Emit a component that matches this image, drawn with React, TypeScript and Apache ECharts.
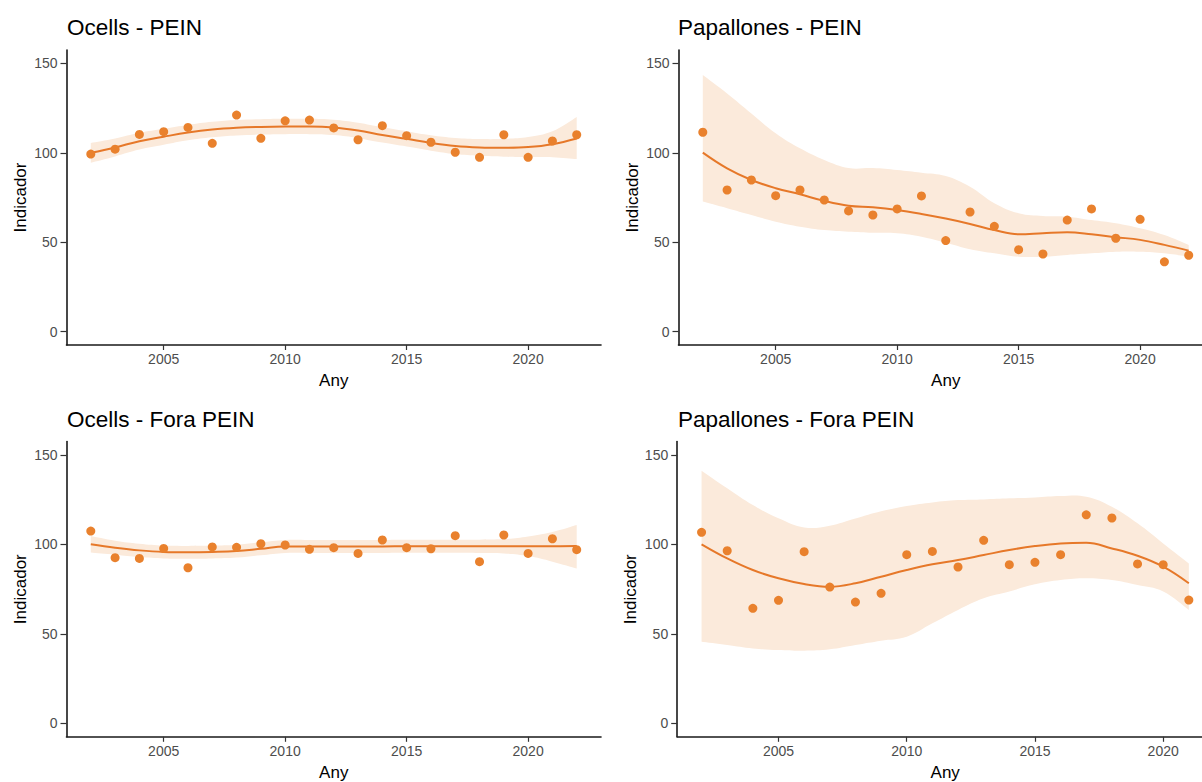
import React, { useEffect, useRef } from "react";
import * as echarts from "echarts";

// ---------- Data ----------
const yearsFull = [2002, 2003, 2004, 2005, 2006, 2007, 2008, 2009, 2010, 2011, 2012, 2013, 2014, 2015, 2016, 2017, 2018, 2019, 2020, 2021, 2022];
const yearsShort = [2002, 2003, 2004, 2005, 2006, 2007, 2008, 2009, 2010, 2011, 2012, 2013, 2014, 2015, 2016, 2017, 2018, 2019, 2020, 2021];

const xTickValues = [2005, 2010, 2015, 2020];
const yTickValues = [0, 50, 100, 150];

const panelTitles = ["Ocells - PEIN", "Papallones - PEIN", "Ocells - Fora PEIN", "Papallones - Fora PEIN"];

// Ocells - PEIN
const ocellsPeinValues = [99.3, 102.0, 110.3, 111.8, 114.2, 105.3, 121.1, 108.1, 117.9, 118.3, 113.9, 107.3, 115.2, 109.6, 105.9, 100.3, 97.5, 110.1, 97.5, 106.6, 110.1];
const ocellsPeinFit = [100, 103, 106.5, 109, 111.3, 113, 114, 114.5, 114.7, 114.7, 114.2, 112.5, 110, 107.8, 105.5, 103.8, 103, 102.8, 103.2, 104.8, 108];
const ocellsPeinLow = [94.5, 98, 101.8, 104.5, 107, 108.7, 109.7, 110.2, 110.4, 110.4, 109.9, 108.2, 105.7, 103.5, 101.2, 99.3, 98.3, 97.8, 97.6, 97.5, 96.5];
const ocellsPeinHigh = [105.5, 108, 111.2, 113.5, 115.6, 117.3, 118.3, 118.8, 119, 119, 118.5, 116.8, 114.3, 112.1, 109.8, 108.3, 107.7, 107.8, 108.8, 112, 120];

// Papallones - PEIN
const papPeinValues = [111.5, 79.2, 84.8, 76.0, 79.2, 73.6, 67.5, 65.2, 68.6, 75.9, 50.9, 66.9, 58.9, 45.8, 43.4, 62.4, 68.6, 52.2, 62.8, 39.0, 42.7];
const papPeinFit = [100.1, 91.3, 84.8, 80.2, 76.8, 73.1, 70.4, 69.5, 68.0, 65.8, 63.2, 60.2, 56.8, 54.4, 55.0, 55.5, 54.4, 52.8, 51.3, 48.5, 45.3];
const papPeinLow = [72.7, 69, 65.2, 61.5, 58.7, 56.8, 55.9, 55.3, 55, 53.1, 49.7, 46.1, 43.8, 41.9, 41.9, 42.9, 43.8, 44.7, 44.7, 43.8, 41.9];
const papPeinHigh = [143.5, 133.2, 122, 110.9, 102.5, 96, 91.5, 91.5, 90.4, 88.9, 87, 81, 71.8, 66.2, 64.7, 64.3, 62.4, 60.6, 57.8, 54, 48.5];

// Ocells - Fora PEIN
const ocellsForaValues = [107.5, 92.6, 92.2, 97.8, 87.0, 98.6, 98.4, 100.4, 99.7, 97.3, 98.2, 95.0, 102.5, 98.2, 97.6, 104.9, 90.4, 105.3, 95.0, 103.2, 97.1];
const ocellsForaFit = [100.1, 98.2, 96.7, 95.8, 95.6, 95.8, 96.3, 97.6, 98.9, 98.9, 98.9, 98.9, 98.9, 99.0, 99.0, 99.0, 99.0, 99.0, 99.0, 99.0, 99.1];
const ocellsForaLow = [95.5, 94.3, 93.0, 92.2, 92.0, 92.2, 92.7, 94.0, 95.3, 95.3, 95.3, 95.3, 95.3, 95.4, 95.4, 95.4, 95.3, 95.0, 93.5, 90.4, 86.6];
const ocellsForaHigh = [104.7, 102.1, 100.4, 99.4, 99.2, 99.4, 99.9, 101.2, 102.5, 102.5, 102.5, 102.5, 102.5, 102.6, 102.6, 102.6, 102.7, 103.0, 104.5, 107.0, 110.9];

// Papallones - Fora PEIN
const papForaValues = [106.8, 96.5, 64.3, 68.8, 96.0, 76.2, 67.8, 72.7, 94.3, 96.1, 87.4, 102.3, 88.7, 90.0, 94.3, 116.6, 114.8, 89.1, 88.7, 68.9];
const papForaFit = [100.1, 92.2, 85.7, 81.1, 77.9, 76.4, 78.3, 82.0, 85.7, 88.9, 91.3, 94.1, 96.9, 99.1, 100.6, 101.0, 97.8, 93.7, 87.6, 78.3];
const papForaLow = [45.6, 43.8, 41.9, 41.0, 40.6, 41.4, 43.8, 46.2, 48.4, 55.9, 63.4, 69.9, 73.7, 77.7, 80.1, 81.1, 80.1, 77.3, 73.7, 63.4];
const papForaHigh = [141.2, 131.4, 122, 114.6, 109.5, 110.5, 114.5, 118.5, 121.5, 123.5, 124.8, 125.2, 125.8, 126.3, 127.1, 126.7, 121.1, 111.8, 100.6, 89.4];

const panels = [
  { title: panelTitles[0], years: yearsFull, values: ocellsPeinValues, fit: ocellsPeinFit, low: ocellsPeinLow, high: ocellsPeinHigh, xMin: 2001, xMax: 2023 },
  { title: panelTitles[1], years: yearsFull, values: papPeinValues, fit: papPeinFit, low: papPeinLow, high: papPeinHigh, xMin: 2001, xMax: 2023 },
  { title: panelTitles[2], years: yearsFull, values: ocellsForaValues, fit: ocellsForaFit, low: ocellsForaLow, high: ocellsForaHigh, xMin: 2001, xMax: 2023 },
  { title: panelTitles[3], years: yearsShort, values: papForaValues, fit: papForaFit, low: papForaLow, high: papForaHigh, xMin: 2001.05, xMax: 2021.95 },
];

// ---------- Layout ----------
const gridBoxes = [
  { left: 66.5, top: 50, width: 534.5, height: 295 },
  { left: 678.5, top: 50, width: 534.5, height: 295 },
  { left: 66.5, top: 441.6, width: 534.5, height: 295.2 },
  { left: 677.2, top: 441.6, width: 536, height: 295.2 },
];
const titlePos = [
  { left: 67, top: 16 },
  { left: 678, top: 16 },
  { left: 67, top: 408 },
  { left: 678, top: 408 },
];

const ORANGE = "#E9812D";
const LINE = "#E67829";
const BAND = "#FBEADB";
const FONT = "'Liberation Sans', Arial, Helvetica, sans-serif";
const SMOOTH = 0.4;

// Bezier path segments through already-projected pixel points (rendering only)
function curveThrough(pts: number[][], s: number): string {
  let d = "";
  const n = pts.length;
  for (let i = 0; i < n - 1; i++) {
    const p0 = pts[Math.max(i - 1, 0)];
    const p1 = pts[i];
    const p2 = pts[i + 1];
    const p3 = pts[Math.min(i + 2, n - 1)];
    const c1x = p1[0] + (p2[0] - p0[0]) * s * 0.5;
    const c1y = p1[1] + (p2[1] - p0[1]) * s * 0.5;
    const c2x = p2[0] - (p3[0] - p1[0]) * s * 0.5;
    const c2y = p2[1] - (p3[1] - p1[1]) * s * 0.5;
    d += ` C${c1x},${c1y} ${c2x},${c2y} ${p2[0]},${p2[1]}`;
  }
  return d;
}

export default function App() {
  const ref = useRef<HTMLDivElement>(null);

  useEffect(() => {
    if (!ref.current) return;
    const chart = echarts.init(ref.current, undefined, { renderer: "svg" });

    const grid = gridBoxes.map((g) => ({ ...g, containLabel: false }));
    const title = panels.map((p, i) => ({
      text: p.title,
      left: titlePos[i].left,
      top: titlePos[i].top,
      padding: 0,
      textStyle: { fontSize: 22.5, fontWeight: "normal", color: "#000", fontFamily: FONT },
    }));

    const xAxis = panels.map((p, i) => ({
      type: "value",
      gridIndex: i,
      min: p.xMin,
      max: p.xMax,
      z: 10,
      axisLine: { show: true, onZero: false, lineStyle: { color: "#1a1a1a", width: 1.6 } },
      axisTick: { show: true, length: 5, lineStyle: { color: "#333", width: 1.2 }, customValues: xTickValues },
      axisLabel: {
        customValues: xTickValues,
        color: "#4d4d4d",
        fontSize: 14,
        margin: 7,
        fontFamily: FONT,
        formatter: (v: number) => String(v),
      },
      splitLine: { show: false },
      name: "Any",
      nameLocation: "middle",
      nameGap: 27,
      nameTextStyle: { color: "#000", fontSize: 17, fontFamily: FONT },
    }));

    const yAxis = panels.map((_, i) => ({
      type: "value",
      gridIndex: i,
      min: -7.5,
      max: 157.5,
      z: 10,
      axisLine: { show: true, onZero: false, lineStyle: { color: "#1a1a1a", width: 1.6 } },
      axisTick: { show: true, length: 6, lineStyle: { color: "#333", width: 1.2 }, customValues: yTickValues },
      axisLabel: {
        customValues: yTickValues,
        color: "#4d4d4d",
        fontSize: 14,
        margin: 9,
        fontFamily: FONT,
        formatter: (v: number) => String(v),
      },
      splitLine: { show: false },
      name: "Indicador",
      nameLocation: "middle",
      nameGap: 38,
      nameTextStyle: { color: "#000", fontSize: 17, fontFamily: FONT },
    }));

    const series: any[] = [];
    panels.forEach((p, i) => {
      const n = p.years.length;
      // confidence band as one filled shape, projected through the axes
      series.push({
        type: "custom",
        xAxisIndex: i,
        yAxisIndex: i,
        data: p.years.map((y, k) => [y, p.low[k], p.high[k]]),
        encode: { x: 0, y: [1, 2] },
        silent: true,
        z: 1,
        renderItem: (params: any, api: any) => {
          if (params.dataIndex !== 0) return null;
          const upper: number[][] = [];
          const lower: number[][] = [];
          for (let k = 0; k < n; k++) {
            const x = api.value(0, k);
            upper.push(api.coord([x, api.value(2, k)]));
            lower.push(api.coord([x, api.value(1, k)]));
          }
          lower.reverse();
          let d = `M${upper[0][0]},${upper[0][1]}`;
          d += curveThrough(upper, SMOOTH);
          d += ` L${lower[0][0]},${lower[0][1]}`;
          d += curveThrough(lower, SMOOTH);
          d += " Z";
          return {
            type: "path",
            shape: { pathData: d },
            style: { fill: BAND, stroke: "none" },
          };
        },
      });
      series.push({
        type: "line",
        xAxisIndex: i,
        yAxisIndex: i,
        data: p.years.map((y, k) => [y, p.fit[k]]),
        smooth: SMOOTH,
        symbol: "none",
        lineStyle: { color: LINE, width: 2 },
        z: 2,
      });
      series.push({
        type: "scatter",
        xAxisIndex: i,
        yAxisIndex: i,
        data: p.years.map((y, k) => [y, p.values[k]]),
        symbol: "circle",
        symbolSize: 9,
        itemStyle: { color: ORANGE, opacity: 1 },
        z: 3,
      });
    });

    chart.setOption({
      animation: false,
      backgroundColor: "#ffffff",
      textStyle: { fontFamily: FONT },
      title,
      grid,
      xAxis,
      yAxis,
      series,
    });

    return () => chart.dispose();
  }, []);

  return (
    <div style={{ position: "absolute", left: 0, top: 0, width: 1202, height: 782, overflow: "hidden", background: "#fff" }}>
      <div ref={ref} style={{ width: 1216, height: 782 }} />
    </div>
  );
}
